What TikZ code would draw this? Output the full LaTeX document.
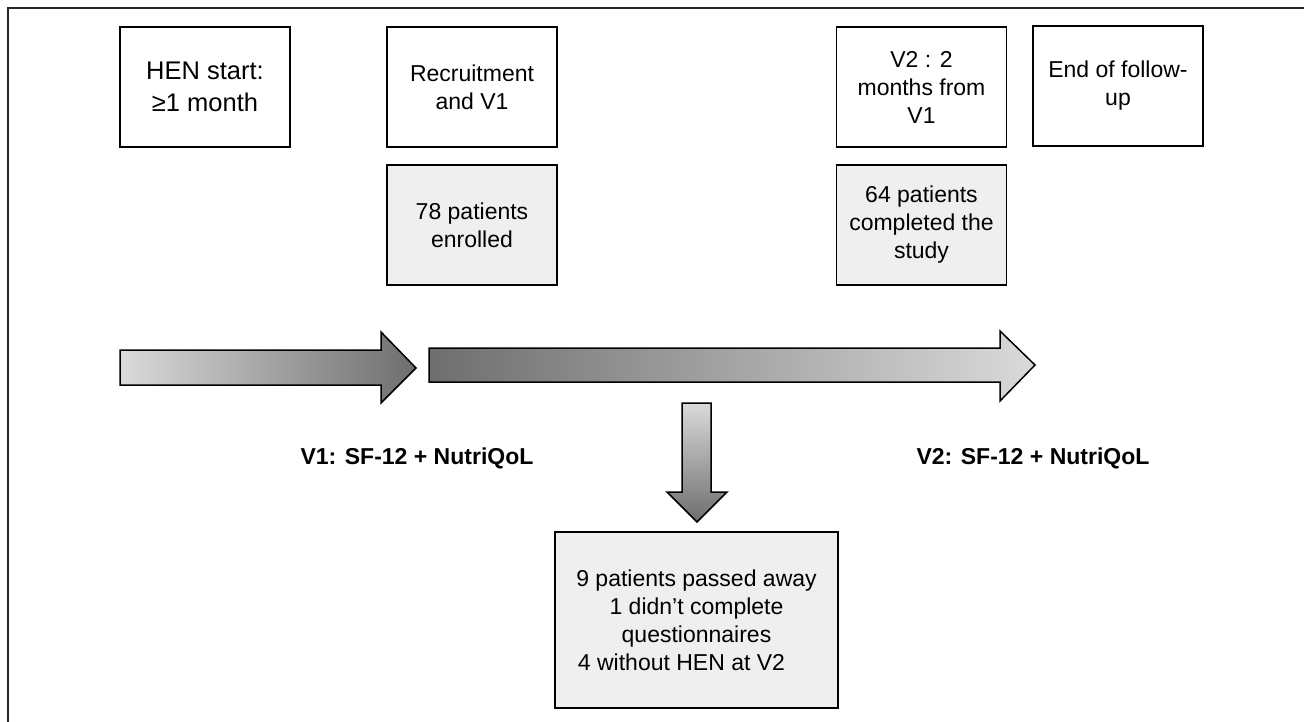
\documentclass[tikz,border=0pt]{standalone}
\usepackage{fontspec}
\setmainfont{Liberation Sans}
\usetikzlibrary{positioning}
\definecolor{boxgray}{HTML}{EFEFEF}
\definecolor{lightend}{HTML}{DADADA}
\definecolor{darkend}{HTML}{6E6E6E}
\tikzset{
  stagebox/.style={draw, line width=1.8pt, minimum width=170pt, minimum height=120pt,
    inner sep=0pt, align=center, font=\fontsize{23}{28}\selectfont},
  countbox/.style={stagebox, fill=boxgray},
  visitlabel/.style={font=\fontsize{23}{28}\selectfont\bfseries},
  blockarrow/.style={draw=black, line width=1.5pt}
}
\begin{document}
\begin{tikzpicture}[x=1pt,y=-1pt]
\useasboundingbox (0,0) rectangle (1304,722);
% frame
\draw [line width=1.2pt, color=black!85] (8,722) -- (8,8) -- (1304,8);
% time line boxes
\node [stagebox, font=\fontsize{25.5}{32}\selectfont] (henstart) at (205,87) {HEN start:\\≥1 month};
\node [stagebox] (recruit) at (472,87) {Recruitment\\and V1};
\node [countbox, below=16pt of recruit] (enrolled) {78 patients\\enrolled};
\node [stagebox] (visit2) at (921.5,87) {V2 : 2\\months from\\V1};
\node [stagebox] (endfu) at (1118,86) {End of follow-\\up};
\node [countbox, below=16pt of visit2] (completed) {64 patients\\completed the\\study};
% block arrows
\shade [blockarrow, left color=lightend, right color=darkend]
  (120,350) -- (381,350) -- (381,332) -- (416,368) -- (381,403) -- (381,385) -- (120,385) -- cycle;
\shade [blockarrow, left color=darkend, right color=lightend]
  (429,348) -- (1000,348) -- (1000,331) -- (1035,365) -- (1000,401) -- (1000,382) -- (429,382) -- cycle;
\shade [blockarrow, top color=lightend, bottom color=darkend]
  (682,403) -- (711,403) -- (711,492) -- (727,492) -- (697,522) -- (667,492) -- (682,492) -- cycle;
% questionnaires
\node [visitlabel] (q1) at (417,458) {V1: SF-12 + NutriQoL};
\node [visitlabel] (q2) at (1033,458) {V2: SF-12 + NutriQoL};
% drop outs
\node [countbox, minimum width=283pt, minimum height=176pt] (dropout) at (696.5,620)
  {9 patients passed away\\1 didn’t complete\\questionnaires\\4 without HEN at V2\rule{30pt}{0pt}};
\end{tikzpicture}
\end{document}
